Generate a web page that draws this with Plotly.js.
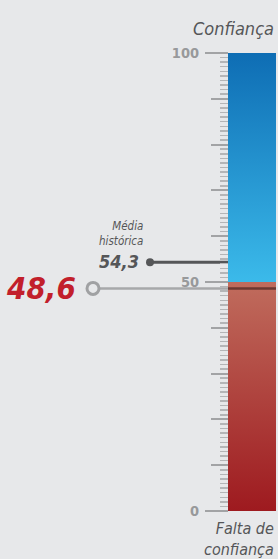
<!DOCTYPE html>
<html><head><meta charset="utf-8">
<script src="https://cdn.plot.ly/plotly-3.0.1.min.js"></script>
<style>html,body{margin:0;padding:0;background:#e7e8ea;}#chart{width:278px;height:559px;}</style>
</head><body><div id="chart"></div>
<script>
// Data
var scaleMin = 0, scaleMid = 50, scaleMax = 100;
var labeledTicks = [0, 50, 100];
var labeledTickText = ['0', '50', '100'];
var currentValue = 48.6;
var currentLabel = '48,6';
var historicalAverage = 54.3;
var historicalLabel = '54,3';
var topLabel = 'Confiança';
var bottomLabel = 'Falta de<br>confiança';
var avgCaption = 'Média<br>histórica';

// Layout constants (pixel-like x coordinates on a hidden axis)
var BX0 = 228, BX1 = 276;
var font = 'Liberation Sans Narrow, DejaVu Sans Condensed, sans-serif';

var traces = [
  {x:[BX0,BX1,BX1,BX0,BX0], y:[scaleMid,scaleMid,scaleMax,scaleMax,scaleMid], type:'scatter', mode:'lines',
   fill:'toself', line:{width:0}, hoverinfo:'skip',
   fillgradient:{type:'vertical', colorscale:[[0,'#3bbaea'],[1,'#0e6db4']]}},
  {x:[BX0,BX1,BX1,BX0,BX0], y:[scaleMin,scaleMin,scaleMid,scaleMid,scaleMin], type:'scatter', mode:'lines',
   fill:'toself', line:{width:0}, hoverinfo:'skip',
   fillgradient:{type:'vertical', colorscale:[[0,'#9e1a1f'],[1,'#c06c5d']]}},
  // current value line inside the bar
  {x:[BX0,BX1], y:[currentValue,currentValue], type:'scatter', mode:'lines',
   line:{color:'rgba(80,40,35,0.75)', width:2.5}, hoverinfo:'skip'},
  // current value line outside
  {x:[97,BX0], y:[currentValue,currentValue], type:'scatter', mode:'lines',
   line:{color:'#a7a8aa', width:2.5}, hoverinfo:'skip'},
  {x:[93], y:[currentValue], type:'scatter', mode:'markers',
   marker:{size:12, color:'#e7e8ea', line:{color:'#a0a1a3', width:3}}, hoverinfo:'skip'},
  // historical average
  {x:[150,BX0], y:[historicalAverage,historicalAverage], type:'scatter', mode:'lines',
   line:{color:'#555658', width:3}, hoverinfo:'skip'},
  {x:[150], y:[historicalAverage], type:'scatter', mode:'markers',
   marker:{size:8, color:'#555658'}, hoverinfo:'skip'},
  // invisible trace to activate labelled axis
  {x:[BX0], y:[scaleMid], yaxis:'y2', type:'scatter', mode:'markers', marker:{opacity:0}, hoverinfo:'skip'}
];

var pos = BX0/278;
var layout = {
  width:278, height:559, showlegend:false,
  paper_bgcolor:'#e7e8ea', plot_bgcolor:'rgba(0,0,0,0)',
  margin:{l:0, r:0, t:53, b:48},
  xaxis:{range:[0,278], visible:false, fixedrange:true},
  yaxis:{range:[scaleMin,scaleMax], anchor:'free', position:pos, showgrid:false, zeroline:false,
    showline:false, ticks:'outside', dtick:10, tick0:0, ticklen:17, tickwidth:2, tickcolor:'#a2a3a5',
    showticklabels:false,
    minor:{ticks:'outside', dtick:1, tick0:0, ticklen:8, tickwidth:1.5, tickcolor:'#b4b5b7', showgrid:false}},
  yaxis2:{range:[scaleMin,scaleMax], overlaying:'y', anchor:'free', position:pos, side:'left',
    showgrid:false, zeroline:false, showline:false, ticks:'outside', tickmode:'array',
    tickvals:labeledTicks, ticktext:labeledTickText.map(function(t){return '<b>'+t+'</b>';}),
    ticklen:23, tickwidth:2, tickcolor:'#a2a3a5',
    ticklabelstandoff:3,
    tickfont:{family:font, size:14.5, color:'#98999b'}},
  annotations:[
    {xref:'x', yref:'y', x:78, y:currentValue, text:'<b><i>'+currentLabel+'</i></b>', showarrow:false,
     xanchor:'right', yanchor:'middle', font:{family:font, size:31, color:'#c21f2b'}},
    {xref:'x', yref:'y', x:141, y:historicalAverage, yshift:1, text:'<b><i>'+historicalLabel+'</i></b>', showarrow:false,
     xanchor:'right', yanchor:'middle', font:{family:font, size:18, color:'#555658'}},
    {xref:'x', yref:'y', x:145, y:historicalAverage, yshift:12, text:'<i>'+avgCaption+'</i>', showarrow:false,
     xanchor:'right', yanchor:'bottom', align:'right', font:{family:font, size:11.5, color:'#555658'}},
    {xref:'x', yref:'paper', x:276, y:1, yshift:12, text:'<i>'+topLabel+'</i>', showarrow:false,
     xanchor:'right', yanchor:'bottom', font:{family:font, size:18, color:'#555658'}},
    {xref:'x', yref:'paper', x:276, y:0, yshift:-6, text:'<i>'+bottomLabel+'</i>', showarrow:false,
     xanchor:'right', yanchor:'top', align:'right', font:{family:font, size:16, color:'#555658'}}
  ]
};
Plotly.newPlot('chart', traces, layout, {staticPlot:true, displayModeBar:false});
</script></body></html>
